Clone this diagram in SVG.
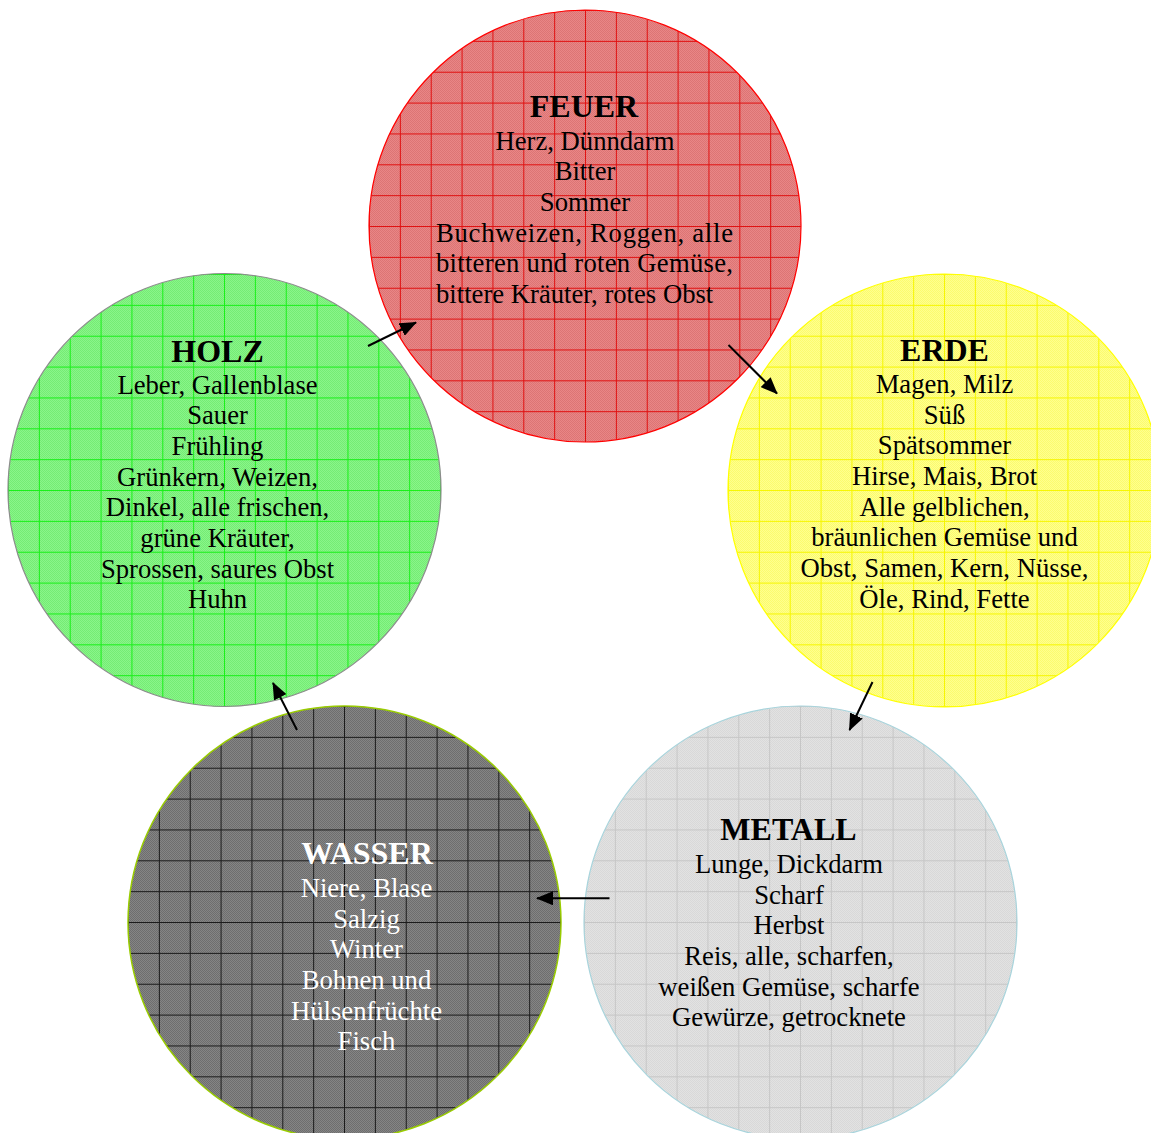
<svg xmlns="http://www.w3.org/2000/svg" width="1151" height="1133" viewBox="0 0 1151 1133">
<defs>
<style>
text{font-family:"Liberation Serif","Times New Roman",serif;font-size:26.67px;fill:#000;text-anchor:middle}
.t{font-weight:bold;font-size:32px}
.w{fill:#fff}
.l{text-anchor:start}
.conn line{stroke:#000;stroke-width:2;marker-end:url(#ah)}
</style>
<marker id="ah" markerUnits="userSpaceOnUse" markerWidth="17" markerHeight="14" refX="16" refY="7" orient="auto">
<path d="M0,0 L17,7 L0,14 z" fill="#000"/>
</marker>
<pattern id="ckR" width="2" height="2" patternUnits="userSpaceOnUse"><rect width="2" height="2" fill="#e98686"/><rect width="1" height="1" fill="#dc7474"/><rect x="1" y="1" width="1" height="1" fill="#dc7474"/></pattern>
<pattern id="ckG" width="2" height="2" patternUnits="userSpaceOnUse"><rect width="2" height="2" fill="#8af58a"/><rect width="1" height="1" fill="#74ec74"/><rect x="1" y="1" width="1" height="1" fill="#74ec74"/></pattern>
<pattern id="ckY" width="2" height="2" patternUnits="userSpaceOnUse"><rect width="2" height="2" fill="#ffff8e"/><rect width="1" height="1" fill="#fbfb6e"/><rect x="1" y="1" width="1" height="1" fill="#fbfb6e"/></pattern>
<pattern id="ckM" width="2" height="2" patternUnits="userSpaceOnUse"><rect width="2" height="2" fill="#e2e2e2"/><rect width="1" height="1" fill="#d8d8d8"/><rect x="1" y="1" width="1" height="1" fill="#d8d8d8"/></pattern>
<pattern id="ckW" width="2" height="2" patternUnits="userSpaceOnUse"><rect width="2" height="2" fill="#858585"/><rect width="1" height="1" fill="#6e6e6e"/><rect x="1" y="1" width="1" height="1" fill="#6e6e6e"/></pattern>
<pattern id="gR" x="369" y="10" width="30.86" height="30.86" patternUnits="userSpaceOnUse"><path d="M0,0.5H30.86M0.5,0V30.86" stroke="#e01010" stroke-width="1" fill="none"/></pattern>
<pattern id="gG" x="8" y="274" width="30.86" height="30.86" patternUnits="userSpaceOnUse"><path d="M0,0.5H30.86M0.5,0V30.86" stroke="#18f018" stroke-width="1" fill="none"/></pattern>
<pattern id="gY" x="728" y="274" width="30.86" height="30.86" patternUnits="userSpaceOnUse"><path d="M0,0.5H30.86M0.5,0V30.86" stroke="#f6f600" stroke-width="1" fill="none"/></pattern>
<pattern id="gM" x="584" y="706" width="30.86" height="30.86" patternUnits="userSpaceOnUse"><path d="M0,0.5H30.86M0.5,0V30.86" stroke="#c6c6c6" stroke-width="1" fill="none"/></pattern>
<pattern id="gW" x="128" y="706" width="30.86" height="30.86" patternUnits="userSpaceOnUse"><path d="M0,0.5H30.86M0.5,0V30.86" stroke="#1a1a1a" stroke-width="1" fill="none"/></pattern>
</defs>
<rect width="1151" height="1133" fill="#fff"/>

<g id="feuer">
<circle cx="585" cy="226" r="216" fill="url(#ckR)"/>
<circle cx="585" cy="226" r="216" fill="url(#gR)" stroke="#ff0000" stroke-width="1.2"/>
<text class="t" x="584" y="117">FEUER</text>
<text x="585" y="149.5">Herz, Dünndarm</text>
<text x="585" y="180.2">Bitter</text>
<text x="585" y="210.8">Sommer</text>
<text class="l" x="436" y="241.5" textLength="297" lengthAdjust="spacing">Buchweizen,  Roggen,  alle</text>
<text class="l" x="436" y="272.2" textLength="297" lengthAdjust="spacing">bitteren und roten Gemüse,</text>
<text class="l" x="436" y="302.8">bittere Kräuter, rotes Obst</text>
</g>

<g id="holz">
<circle cx="224.5" cy="490" r="216.5" fill="url(#ckG)"/>
<circle cx="224.5" cy="490" r="216.5" fill="url(#gG)" stroke="#8c8c8c" stroke-width="1.2"/>
<text class="t" x="217.5" y="362">HOLZ</text>
<text x="217.5" y="393.5">Leber, Gallenblase</text>
<text x="217.5" y="424.2">Sauer</text>
<text x="217.5" y="454.8">Frühling</text>
<text x="217.5" y="485.5">Grünkern, Weizen,</text>
<text x="217.5" y="516.2">Dinkel, alle frischen,</text>
<text x="217.5" y="546.8">grüne Kräuter,</text>
<text x="217.5" y="577.5">Sprossen, saures Obst</text>
<text x="217.5" y="608.2">Huhn</text>
</g>

<g id="erde">
<circle cx="944.5" cy="490.5" r="216.5" fill="url(#ckY)"/>
<circle cx="944.5" cy="490.5" r="216.5" fill="url(#gY)" stroke="#ffff00" stroke-width="1.2"/>
<text class="t" x="944.5" y="361">ERDE</text>
<text x="944.5" y="393">Magen, Milz</text>
<text x="944.5" y="423.7">Süß</text>
<text x="944.5" y="454.3">Spätsommer</text>
<text x="944.5" y="485">Hirse, Mais, Brot</text>
<text x="944.5" y="515.7">Alle gelblichen,</text>
<text x="944.5" y="546.3">bräunlichen Gemüse und</text>
<text x="944.5" y="577">Obst, Samen, Kern, Nüsse,</text>
<text x="944.5" y="607.7">Öle, Rind, Fette</text>
</g>

<g id="metall">
<circle cx="800.5" cy="922.5" r="216.5" fill="url(#ckM)"/>
<circle cx="800.5" cy="922.5" r="216.5" fill="url(#gM)" stroke="#a8d4dc" stroke-width="1.2"/>
<text class="t" x="788.5" y="840">METALL</text>
<text x="789" y="873">Lunge, Dickdarm</text>
<text x="789" y="903.7">Scharf</text>
<text x="789" y="934.3">Herbst</text>
<text x="789" y="965">Reis, alle, scharfen,</text>
<text x="789" y="995.7">weißen Gemüse, scharfe</text>
<text x="789" y="1026.3">Gewürze, getrocknete</text>
</g>

<g id="wasser">
<circle cx="344.5" cy="922.5" r="216.5" fill="url(#ckW)"/>
<circle cx="344.5" cy="922.5" r="216.5" fill="url(#gW)" stroke="#99cc00" stroke-width="1.5"/>
<text class="t w" x="367" y="864">WASSER</text>
<text class="w" x="366.5" y="897">Niere, Blase</text>
<text class="w" x="366.5" y="927.7">Salzig</text>
<text class="w" x="366.5" y="958.3">Winter</text>
<text class="w" x="366.5" y="989">Bohnen und</text>
<text class="w" x="366.5" y="1019.7">Hülsenfrüchte</text>
<text class="w" x="366.5" y="1050.3">Fisch</text>
</g>

<g id="connectors" class="conn">
<line x1="368" y1="346" x2="416" y2="322.5"/>
<line x1="728.5" y1="345" x2="777" y2="393.5"/>
<line x1="872.5" y1="682" x2="849.5" y2="730"/>
<line x1="609.5" y1="898.3" x2="537" y2="898.3"/>
<line x1="297" y1="730" x2="273" y2="683"/>
</g>
</svg>
